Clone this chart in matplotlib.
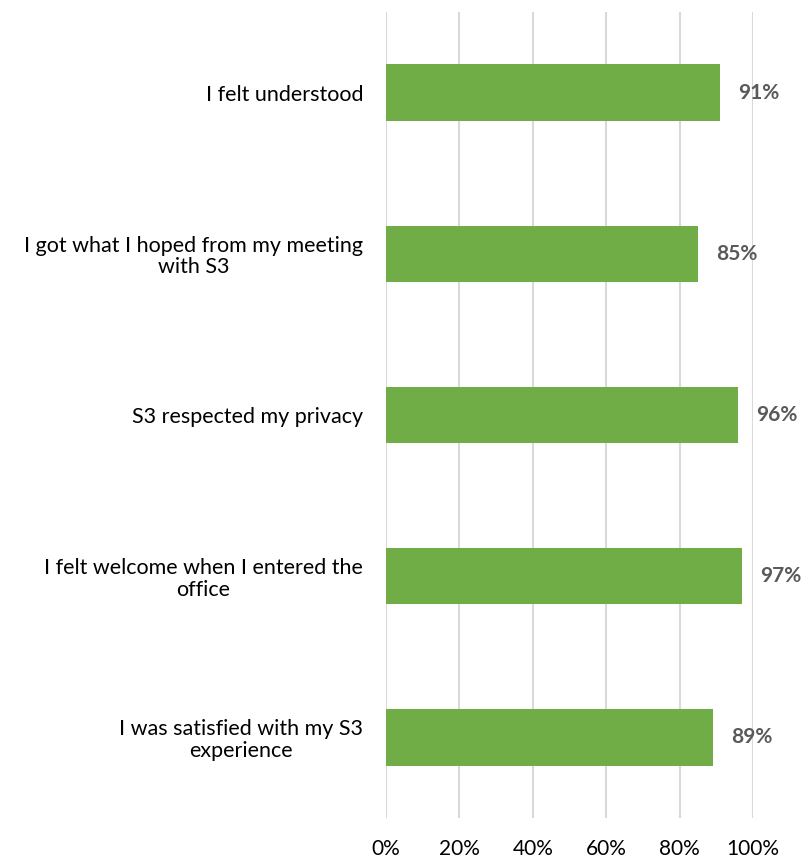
import matplotlib.pyplot as plt
from matplotlib.ticker import FuncFormatter

# Survey statements (top to bottom) and percentage agreeing
statements = [
    "I felt understood",
    "I got what I hoped from my meeting\nwith S3",
    "S3 respected my privacy",
    "I felt welcome when I entered the\noffice",
    "I was satisfied with my S3\nexperience",
]
values = [91, 85, 96, 97, 89]
xticks = [0, 20, 40, 60, 80, 100]

plt.rcParams['font.family'] = ['Lato', 'DejaVu Sans']

fig = plt.figure(figsize=(8.04, 8.58), dpi=100)
ax = fig.add_axes([0.480, 0.0466, 0.4566, 0.9394])

ypos = list(range(len(values)))[::-1]
ax.barh(ypos, values, height=0.35, color='#70AD47', zorder=3)

for y, v in zip(ypos, values):
    ax.annotate(f'{v}%', xy=(v, y), xytext=(13, 0), textcoords='offset points',
                va='center', ha='left', fontsize=15, fontweight='bold', color='#595959')

ax.set_xlim(0, 100)
ax.set_ylim(-0.5, len(values) - 0.5)
ax.set_xticks(xticks)
ax.xaxis.set_major_formatter(FuncFormatter(lambda x, _: f'{int(x)}%'))
ax.set_yticks(ypos)
ax.set_yticklabels(statements, fontsize=15.5, color='#000000', ha='right',
                   ma='center', linespacing=1.1)

ax.grid(axis='x', color='#D9D9D9', linewidth=1.5, zorder=0)
for s in ax.spines.values():
    s.set_visible(False)
ax.tick_params(axis='x', length=0, pad=15, labelsize=15, labelcolor='#000000')
ax.tick_params(axis='y', length=0, pad=16.5)

fig.savefig('out.png', dpi=100)
